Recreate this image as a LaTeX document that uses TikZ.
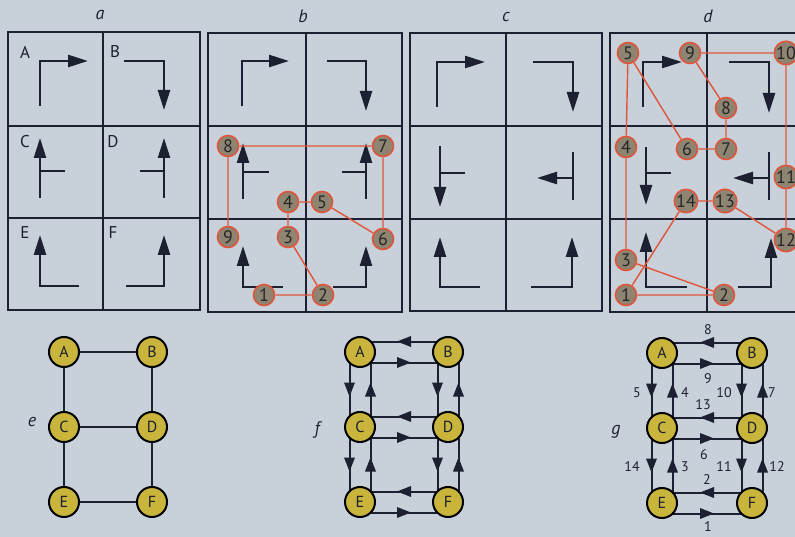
\documentclass[tikz,border=0pt]{standalone}
\usepackage{fontspec}
\setmainfont{PT Sans}
\usetikzlibrary{arrows.meta,decorations.markings,backgrounds}
\definecolor{bg}{HTML}{C8D0DA}
\definecolor{ink}{HTML}{1C2030}
\definecolor{rline}{HTML}{E0553A}
\definecolor{rfill}{HTML}{8E8472}
\definecolor{yfill}{HTML}{C9B53C}
\tikzset{
 panelgrid/.style={draw=ink, line width=2.2pt},
 cellarrow/.style={draw=ink, line width=2.5pt, -{Triangle[length=20pt,width=12pt]}},
 cellline/.style={draw=ink, line width=2.5pt},
 celllabel/.style={font=\fontsize{17}{17}\selectfont, text=ink},
 panellabel/.style={font=\itshape\fontsize{18}{18}\selectfont, text=ink},
 rnode/.style={circle, draw=rline, line width=1.6pt, fill=rfill, minimum size=21pt, inner sep=0pt, font=\fontsize{18}{18}\selectfont, text=black!85},
 redge/.style={draw=rline, line width=1.4pt},
 ynode/.style={circle, draw=black, line width=2pt, fill=yfill, minimum size=30pt, inner sep=0pt, font=\fontsize{16}{16}\selectfont, text=ink},
 yedge/.style={draw=ink, line width=2pt},
 darc/.style={draw=ink, line width=2pt, postaction={decorate},
   decoration={markings, mark=at position 0.5 with {\fill[ink] (7pt,0pt) -- (-7pt,5.5pt) -- (-7pt,-5.5pt) -- cycle;}}},
 glabel/.style={font=\fontsize{14}{14}\selectfont, text=ink},
}
\begin{document}
\begin{tikzpicture}[x=1pt,y=-1pt]
\useasboundingbox (0,0) rectangle (795,537);
\begin{scope}[on background layer]
\fill[bg] (0,0) rectangle (795,537);
\end{scope}

% panel labels
\node[panellabel] (la) at (100,15) {a};
\node[panellabel] (lb) at (303,16) {b};
\node[panellabel] (lc) at (506,17) {c};
\node[panellabel] (ld) at (708,16) {d};

% ---------- panel a ----------
\draw[panelgrid] (8,32) rectangle (200,310);
\draw[panelgrid] (103,32) -- (103,310) (8,126) -- (200,126) (8,218) -- (200,218);
\node[celllabel] (cA) at (25,52) {A};
\node[celllabel] (cB) at (115,52) {B};
\node[celllabel] (cC) at (25,142) {C};
\node[celllabel] (cD) at (113,142) {D};
\node[celllabel] (cE) at (25,233) {E};
\node[celllabel] (cF) at (113,233) {F};
\draw[cellarrow] (40,106) -- (40,61) -- (88,61);
\draw[cellarrow] (124,61) -- (164,61) -- (164,110);
\draw[cellarrow] (40,198) -- (40,138);
\draw[cellline] (40,171) -- (65,171);
\draw[cellarrow] (164,198) -- (164,138);
\draw[cellline] (140,171) -- (164,171);
\draw[cellarrow] (79,286) -- (40,286) -- (40,235);
\draw[cellarrow] (126,286) -- (164,286) -- (164,235);

% ---------- panel b ----------
\draw[panelgrid] (208,33) rectangle (402,312);
\draw[panelgrid] (306,33) -- (306,312) (208,126) -- (402,126) (208,219) -- (402,219);
\draw[cellarrow] (242,106) -- (242,61) -- (289,61);
\draw[cellarrow] (327,61) -- (366,61) -- (366,111);
\draw[cellarrow] (243,199) -- (243,143);
\draw[cellline] (243,172) -- (269,172);
\draw[cellarrow] (366,199) -- (366,143);
\draw[cellline] (342,172) -- (366,172);
\draw[cellarrow] (283,287) -- (243,287) -- (243,246);
\draw[cellarrow] (333,287) -- (366,287) -- (366,246);
\node[rnode] (b1) at (264,295) {1};
\node[rnode] (b2) at (323,295) {2};
\node[rnode] (b3) at (288,237) {3};
\node[rnode] (b4) at (288,202) {4};
\node[rnode] (b5) at (322,202) {5};
\node[rnode] (b6) at (383,239) {6};
\node[rnode] (b7) at (383,146) {7};
\node[rnode] (b8) at (228,146) {8};
\node[rnode] (b9) at (228,237) {9};
\draw[redge] (b1) -- (b2) -- (b3) -- (b4) -- (b5) -- (b6) -- (b7) -- (b8) -- (b9);

% ---------- panel c ----------
\draw[panelgrid] (410,33) rectangle (602,311);
\draw[panelgrid] (506,33) -- (506,311) (410,126) -- (602,126) (410,219) -- (602,219);
\draw[cellarrow] (437,107) -- (437,62) -- (485,62);
\draw[cellarrow] (533,62) -- (573,62) -- (573,112);
\draw[cellarrow] (440,146) -- (440,207);
\draw[cellline] (440,173) -- (465,173);
\draw[cellline] (573,152) -- (573,200);
\draw[cellarrow] (573,178) -- (537,178);
\draw[cellarrow] (480,287) -- (440,287) -- (440,237);
\draw[cellarrow] (531,287) -- (572,287) -- (572,237);

% ---------- panel d ----------
\begin{scope}
\clip (605,0) rectangle (795,320);
\draw[panelgrid] (610,33) rectangle (804,312);
\draw[panelgrid] (707,33) -- (707,312) (610,126) -- (804,126) (610,219) -- (804,219);
\draw[cellarrow] (643,107) -- (643,62) -- (682,62);
\draw[cellarrow] (729,62) -- (769,62) -- (769,113);
\draw[cellarrow] (646,147) -- (646,205);
\draw[cellline] (646,173) -- (671,173);
\draw[cellline] (769,152) -- (769,200);
\draw[cellarrow] (769,178) -- (733,178);
\draw[cellarrow] (687,287) -- (646,287) -- (646,232);
\draw[cellarrow] (738,287) -- (771,287) -- (771,238);
\node[rnode] (d1) at (626,295) {1};
\node[rnode] (d2) at (724,295) {2};
\node[rnode] (d3) at (626,260) {3};
\node[rnode] (d4) at (626,147) {4};
\node[rnode] (d5) at (628,53) {5};
\node[rnode] (d6) at (687,149) {6};
\node[rnode] (d7) at (726,149) {7};
\node[rnode] (d8) at (726,108) {8};
\node[rnode] (d9) at (690,53) {9};
\node[rnode] (d10) at (786,53) {10};
\node[rnode] (d11) at (786,177) {11};
\node[rnode] (d12) at (786,240) {12};
\node[rnode] (d13) at (725,201) {13};
\node[rnode] (d14) at (686,201) {14};
\draw[redge] (d1) -- (d2) -- (d3) -- (d4) -- (d5) -- (d6) -- (d7) -- (d8) -- (d9) -- (d10) -- (d11) -- (d12) -- (d13) -- (d14) -- (d1);
\end{scope}

% ---------- graph e ----------
\node[panellabel] (le) at (32,422) {e};
\node[ynode] (eA) at (64,352) {A};
\node[ynode] (eB) at (152,352) {B};
\node[ynode] (eC) at (64,427) {C};
\node[ynode] (eD) at (152,427) {D};
\node[ynode] (eE) at (64,502) {E};
\node[ynode] (eF) at (152,502) {F};
\draw[yedge] (eA) -- (eB);
\draw[yedge] (eA) -- (eC);
\draw[yedge] (eC) -- (eE);
\draw[yedge] (eE) -- (eF);
\draw[yedge] (eF) -- (eD);
\draw[yedge] (eD) -- (eB);
\draw[yedge] (eC) -- (eD);

% ---------- graph f ----------
\node[panellabel] (lf) at (317,430) {f};
\node[ynode] (fA) at (360,352) {A};
\node[ynode] (fB) at (448,352) {B};
\node[ynode] (fC) at (360,427) {C};
\node[ynode] (fD) at (448,427) {D};
\node[ynode] (fE) at (360,502) {E};
\node[ynode] (fF) at (448,502) {F};

% ---------- graph g ----------
\node[panellabel] (lg) at (616,432) {g};
\node[ynode] (gA) at (662,353) {A};
\node[ynode] (gB) at (752,353) {B};
\node[ynode] (gC) at (662,428) {C};
\node[ynode] (gD) at (752,428) {D};
\node[ynode] (gE) at (662,503) {E};
\node[ynode] (gF) at (752,503) {F};

\begin{scope}[on background layer]
\foreach \g in {f,g}{
  \foreach \l/\r in {A/B,C/D,E/F}{
    \draw[darc] ([yshift=10.5pt]\g\r.center) -- ([yshift=10.5pt]\g\l.center);
    \draw[darc] ([yshift=-10.5pt]\g\l.center) -- ([yshift=-10.5pt]\g\r.center);
  }
  \foreach \u/\d in {A/C,C/E,B/D,D/F}{
    \draw[darc] ([xshift=-10.5pt]\g\u.center) -- ([xshift=-10.5pt]\g\d.center);
    \draw[darc] ([xshift=10.5pt]\g\d.center) -- ([xshift=10.5pt]\g\u.center);
  }
}
\end{scope}

\node[glabel] (n8) at (708,330) {8};
\node[glabel] (n9) at (708,379) {9};
\node[glabel] (n5) at (637,393) {5};
\node[glabel] (n4) at (685,393) {4};
\node[glabel] (n10) at (724,393) {10};
\node[glabel] (n7) at (772,393) {7};
\node[glabel] (n13) at (703,405) {13};
\node[glabel] (n6) at (704,455) {6};
\node[glabel] (n14) at (632,467) {14};
\node[glabel] (n3) at (685,467) {3};
\node[glabel] (n11) at (724,467) {11};
\node[glabel] (n12) at (777,467) {12};
\node[glabel] (n2) at (707,480) {2};
\node[glabel] (n1) at (708,527) {1};
\end{tikzpicture}
\end{document}
